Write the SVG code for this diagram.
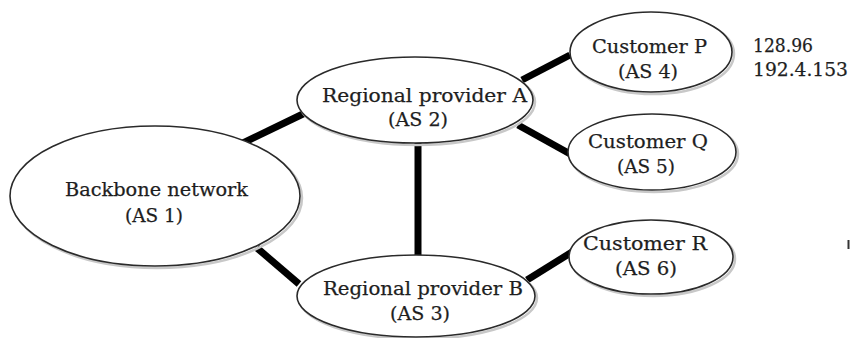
<svg xmlns="http://www.w3.org/2000/svg" width="853" height="338" viewBox="0 0 853 338">
<style>
.node ellipse.shadow{fill:none;stroke:#c8c8c8;stroke-width:2.5}
.node ellipse.body{fill:#fff;stroke:#2a2a2a;stroke-width:1.6}
text{font-family:"DejaVu Serif","Liberation Serif",serif;font-size:19px;fill:#1e1e1e;stroke:#1e1e1e;stroke-width:0.25}
#connectors line{stroke:#000;stroke-width:7;stroke-linecap:butt}
</style>
<rect width="853" height="338" fill="#fff"/>
<g id="connectors">
<line x1="243" y1="143" x2="305" y2="113"/>
<line x1="257" y1="248" x2="299" y2="284"/>
<line x1="418" y1="142" x2="418" y2="257"/>
<line x1="522" y1="80" x2="570" y2="55"/>
<line x1="518" y1="125" x2="572" y2="155"/>
<line x1="527" y1="280" x2="572" y2="252"/>
</g>
<g id="backbone" class="node">
<ellipse class="shadow" cx="157" cy="198" rx="145" ry="70"/>
<ellipse class="body" cx="155" cy="196" rx="145" ry="70"/>
<text x="65" y="196" textLength="183" lengthAdjust="spacingAndGlyphs">Backbone network</text>
<text x="125" y="222" textLength="58" lengthAdjust="spacingAndGlyphs">(AS 1)</text>
</g>
<g id="regionalA" class="node">
<ellipse class="shadow" cx="417" cy="102" rx="118" ry="43"/>
<ellipse class="body" cx="415" cy="100" rx="118" ry="43"/>
<text x="322" y="102" textLength="205" lengthAdjust="spacingAndGlyphs">Regional provider A</text>
<text x="388" y="126" textLength="60" lengthAdjust="spacingAndGlyphs">(AS 2)</text>
</g>
<g id="regionalB" class="node">
<ellipse class="shadow" cx="418" cy="298" rx="119" ry="41"/>
<ellipse class="body" cx="416" cy="296" rx="119" ry="41"/>
<text x="323" y="295" textLength="200" lengthAdjust="spacingAndGlyphs">Regional provider B</text>
<text x="390" y="320" textLength="60" lengthAdjust="spacingAndGlyphs">(AS 3)</text>
</g>
<g id="customerP" class="node">
<ellipse class="shadow" cx="653" cy="54" rx="81" ry="40"/>
<ellipse class="body" cx="651" cy="52" rx="81" ry="40"/>
<text x="592" y="53" textLength="115" lengthAdjust="spacingAndGlyphs">Customer P</text>
<text x="618" y="78" textLength="60" lengthAdjust="spacingAndGlyphs">(AS 4)</text>
</g>
<g id="customerQ" class="node">
<ellipse class="shadow" cx="654" cy="154" rx="84" ry="38"/>
<ellipse class="body" cx="652" cy="152" rx="84" ry="38"/>
<text x="588" y="148" textLength="120" lengthAdjust="spacingAndGlyphs">Customer Q</text>
<text x="617" y="173" textLength="58" lengthAdjust="spacingAndGlyphs">(AS 5)</text>
</g>
<g id="customerR" class="node">
<ellipse class="shadow" cx="653" cy="259" rx="82" ry="37"/>
<ellipse class="body" cx="651" cy="257" rx="82" ry="37"/>
<text x="583" y="250" textLength="124" lengthAdjust="spacingAndGlyphs">Customer R</text>
<text x="615" y="275" textLength="62" lengthAdjust="spacingAndGlyphs">(AS 6)</text>
</g>
<g id="addresses">
<text x="753" y="52" textLength="60" lengthAdjust="spacingAndGlyphs">128.96</text>
<text x="753" y="76" textLength="95" lengthAdjust="spacingAndGlyphs">192.4.153</text>
</g>
<line x1="848.5" y1="240" x2="848.5" y2="249" stroke="#333" stroke-width="2"/>
</svg>
